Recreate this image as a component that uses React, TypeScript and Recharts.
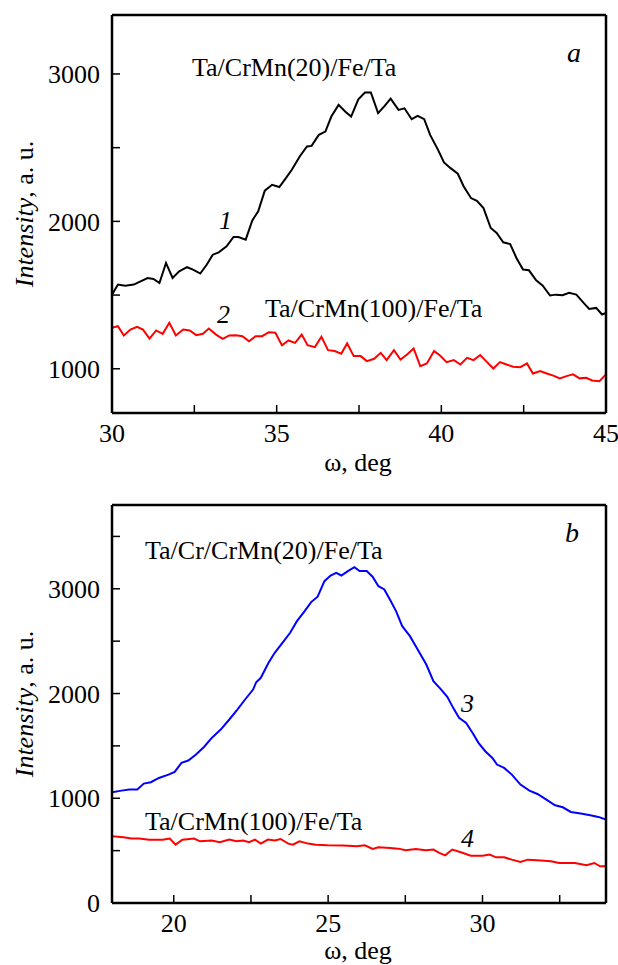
import { Line, LineChart, XAxis, YAxis } from 'recharts'

// panel a, curve 1: Ta/CrMn(20)/Fe/Ta
const omegaA1 = [
  30, 30.18, 30.4, 30.66, 31.08, 31.26, 31.44, 31.64, 31.84, 32.04, 32.28, 32.46, 32.68, 32.88, 33.06,
  33.24, 33.48, 33.69, 33.84, 34.06, 34.26, 34.44, 34.64, 34.86, 35.08, 35.28, 35.46, 35.7, 35.92, 36.06,
  36.28, 36.48, 36.66, 36.88, 37.08, 37.26, 37.48, 37.68, 37.86, 38.08, 38.28, 38.46, 38.7, 38.88, 39.1,
  39.28, 39.48, 39.66, 39.9, 40.08, 40.28, 40.5, 40.68, 40.9, 41.08, 41.28, 41.5, 41.68, 41.88, 42.09,
  42.28, 42.48, 42.66, 42.88, 43.08, 43.3, 43.48, 43.68, 43.88, 44.1, 44.32, 44.49, 44.7, 44.88, 45,
]
const intensityA1 = [
  1503, 1571, 1564, 1571, 1616, 1609, 1582, 1718, 1616, 1661, 1689, 1673, 1646, 1707, 1774,
  1790, 1831, 1894, 1894, 1876, 2007, 2068, 2208, 2248, 2233, 2293, 2350, 2440, 2508, 2512,
  2587, 2609, 2711, 2790, 2745, 2711, 2828, 2874, 2874, 2734, 2783, 2833, 2756, 2767, 2693,
  2715, 2693, 2587, 2485, 2400, 2361, 2323, 2237, 2158, 2140, 2090, 1955, 1921, 1858, 1846,
  1752, 1673, 1668, 1600, 1564, 1497, 1503, 1499, 1515, 1503, 1447, 1406, 1413, 1368, 1379,
]

// panel a, curve 2: Ta/CrMn(100)/Fe/Ta
const omegaA2 = [
  30, 30.18, 30.36, 30.56, 30.76, 30.94, 31.14, 31.34, 31.54, 31.74, 31.94,
  32.16, 32.36, 32.56, 32.76, 32.94, 33.16, 33.36, 33.56, 33.76, 33.96,
  34.16, 34.36, 34.56, 34.76, 34.96, 35.16, 35.36, 35.56, 35.76, 35.94,
  36.16, 36.36, 36.56, 36.76, 36.96, 37.14, 37.34, 37.55, 37.74, 37.96,
  38.16, 38.34, 38.56, 38.76, 38.96, 39.16, 39.36, 39.56, 39.78, 39.96,
  40.16, 40.38, 40.58, 40.78, 40.98, 41.18, 41.38, 41.58, 41.78, 41.98,
  42.18, 42.4, 42.6, 42.78, 43.0, 43.2, 43.38, 43.6, 43.8, 44.0,
  44.2, 44.4, 44.58, 44.8, 45,
]
const intensityA2 = [
  1278, 1289, 1226, 1266, 1284, 1266, 1205, 1260, 1237, 1312, 1226,
  1266, 1260, 1228, 1237, 1273, 1232, 1203, 1226, 1228, 1221,
  1187, 1221, 1221, 1248, 1244, 1160, 1192, 1176, 1232, 1160,
  1147, 1217, 1126, 1120, 1102, 1172, 1086, 1086, 1052, 1068,
  1108, 1059, 1126, 1063, 1097, 1138, 1018, 1036, 1120, 1090,
  1045, 1059, 1029, 1074, 1059, 1093, 1047, 1002, 1045, 1029,
  1014, 1011, 1036, 968, 984, 968, 955, 935, 950, 962,
  935, 939, 921, 916, 962,
]

// panel b, curve 3: Ta/Cr/CrMn(20)/Fe/Ta
const omegaB3 = [
  18, 18.31, 18.56, 18.82, 19.03, 19.26, 19.52, 19.83, 20.03, 20.25,
  20.47, 20.72, 20.98, 21.23, 21.52, 21.8, 22.06, 22.31, 22.57, 22.67,
  22.82, 23.07, 23.27, 23.52, 23.77, 23.99, 24.24, 24.45, 24.66, 24.88,
  25.08, 25.26, 25.43, 25.64, 25.85, 26.02, 26.25, 26.44, 26.63, 26.82,
  27.01, 27.2, 27.4, 27.65, 27.9, 28.18, 28.41, 28.64, 28.86, 29.05,
  29.24, 29.47, 29.68, 29.87, 30.09, 30.32, 30.47, 30.7, 30.95, 31.23,
  31.52, 31.78, 32.07, 32.35, 32.6, 32.86, 33.18, 33.49, 33.75, 34,
]
const intensityB3 = [
  1057, 1073, 1083, 1083, 1140, 1153, 1194, 1226, 1252, 1338,
  1360, 1417, 1490, 1576, 1656, 1752, 1847, 1943, 2038, 2108,
  2150, 2293, 2389, 2484, 2580, 2691, 2787, 2873, 2924, 3073,
  3127, 3153, 3127, 3169, 3207, 3169, 3169, 3115, 3025, 2994,
  2892, 2787, 2643, 2548, 2420, 2277, 2118, 2045, 1968, 1863,
  1768, 1720, 1624, 1529, 1449, 1385, 1322, 1290, 1226, 1131,
  1073, 1041, 987, 933, 914, 869, 854, 838, 822, 796,
]

// panel b, curve 4: Ta/CrMn(100)/Fe/Ta
const omegaB4 = [
  18, 18.37, 18.63, 18.88, 19.2, 19.64, 19.87, 20.06, 20.28, 20.66,
  20.85, 21.23, 21.49, 21.8, 22.03, 22.25, 22.44, 22.63, 22.82, 23.05,
  23.27, 23.46, 23.71, 23.86, 24.07, 24.35, 24.6, 24.98, 25.49, 25.93,
  26.19, 26.44, 26.63, 27.01, 27.27, 27.52, 27.84, 28.16, 28.41, 28.6,
  28.79, 29.02, 29.3, 29.62, 30.0, 30.23, 30.44, 30.7, 30.95, 31.23,
  31.46, 31.78, 32.22, 32.48, 32.99, 33.37, 33.62, 33.81, 34,
]
const intensityB4 = [
  637, 627, 615, 615, 605, 605, 615, 557, 605, 615,
  589, 596, 580, 605, 589, 596, 580, 605, 567, 605,
  596, 611, 567, 557, 589, 567, 557, 551, 548, 541,
  551, 516, 532, 525, 519, 503, 516, 503, 510, 478,
  455, 510, 484, 452, 452, 462, 436, 436, 414, 392,
  414, 408, 398, 382, 382, 360, 382, 350, 350,
]

const ticksAX = [30, 32.5, 35, 37.5, 40, 42.5, 45]
const ticksAY = [1000, 1500, 2000, 2500, 3000]
const ticksBX = [20, 22.5, 25, 27.5, 30, 32.5]
const ticksBY = [0, 500, 1000, 1500, 2000, 2500, 3000, 3500]

// font lists don't resolve in this renderer, so name just one family
const FONT = "'Liberation Serif'"
const FS = 26

const zip = (xs: number[], ys: number[]) => xs.map((x, i) => ({ x, y: ys[i] }))

interface Series {
  name: string
  color: string
  data: { x: number; y: number }[]
}

interface PanelProps {
  top: number
  height: number
  padTop: number
  padBottom: number
  xDomain: [number, number]
  yDomain: [number, number]
  xTicks: number[]
  yTicks: number[]
  series: Series[]
}

function Panel({ top, height, padTop, padBottom, xDomain, yDomain, xTicks, yTicks, series }: PanelProps) {
  const tickStyle = { fontSize: FS, fill: '#000', style: { fontFamily: FONT } }
  const axisLine = { stroke: '#000', strokeWidth: 2.5 }
  const tickLine = { stroke: '#000', strokeWidth: 1.5 }
  return (
    <div style={{ position: 'absolute', left: 0, top }}>
      <LineChart width={618} height={height} margin={{ top: 0, right: 0, bottom: 0, left: 0 }} style={{ fontFamily: FONT }}>
        <XAxis
          xAxisId="b"
          type="number"
          dataKey="x"
          domain={xDomain}
          ticks={xTicks}
          interval={0}
          allowDataOverflow
          height={padBottom}
          tickSize={-8}
          tickMargin={19}
          tick={tickStyle}
          tickFormatter={(v: number) => (v % 5 === 0 ? String(v) : '')}
          axisLine={axisLine}
          tickLine={tickLine}
        />
        <XAxis
          xAxisId="t"
          orientation="top"
          type="number"
          dataKey="x"
          domain={xDomain}
          ticks={xTicks}
          interval={0}
          allowDataOverflow
          height={padTop}
          tickSize={-8}
          tick={false}
          axisLine={axisLine}
          tickLine={tickLine}
        />
        <YAxis
          yAxisId="l"
          type="number"
          domain={yDomain}
          ticks={yTicks}
          interval={0}
          allowDataOverflow
          width={112}
          tickSize={-8}
          tickMargin={20}
          tick={tickStyle}
          tickFormatter={(v: number) => (v % 1000 === 0 ? String(v) : '')}
          axisLine={axisLine}
          tickLine={tickLine}
        />
        <YAxis
          yAxisId="r"
          orientation="right"
          type="number"
          domain={yDomain}
          ticks={yTicks}
          interval={0}
          allowDataOverflow
          width={12}
          tickSize={-8}
          tick={false}
          axisLine={axisLine}
          tickLine={tickLine}
        />
        {series.map((s) => (
          <Line
            key={s.name}
            xAxisId="b"
            yAxisId="l"
            data={s.data}
            dataKey="y"
            type="linear"
            stroke={s.color}
            strokeWidth={2}
            dot={false}
            isAnimationActive={false}
          />
        ))}
      </LineChart>
    </div>
  )
}

function YLabel({ cy }: { cy: number }) {
  return (
    <text x={33} y={cy} transform={`rotate(-90 33 ${cy})`} textAnchor="middle" fontSize={FS} style={{ fontFamily: FONT }}>
      <tspan fontStyle="italic">Intensity</tspan>
      <tspan>, a. u.</tspan>
    </text>
  )
}

function Note({ x, y, size = FS, italic = false, anchor = 'start', children }: {
  x: number
  y: number
  size?: number
  italic?: boolean
  anchor?: 'start' | 'middle' | 'end'
  children: string
}) {
  return (
    <text x={x} y={y} fontSize={size} fontStyle={italic ? 'italic' : 'normal'} textAnchor={anchor} style={{ fontFamily: FONT }}>
      {children}
    </text>
  )
}

export default function App() {
  const seriesA: Series[] = [
    { name: '1', color: '#000000', data: zip(omegaA1, intensityA1) },
    { name: '2', color: '#ff0000', data: zip(omegaA2, intensityA2) },
  ]
  const seriesB: Series[] = [
    { name: '3', color: '#0000ff', data: zip(omegaB3, intensityB3) },
    { name: '4', color: '#ff0000', data: zip(omegaB4, intensityB4) },
  ]
  return (
    <div style={{ position: 'absolute', left: 0, top: 0, width: 618, height: 965, background: '#fff' }}>
      <Panel
        top={0}
        height={460}
        padTop={15}
        padBottom={47}
        xDomain={[30, 45]}
        yDomain={[700, 3400]}
        xTicks={ticksAX}
        yTicks={ticksAY}
        series={seriesA}
      />
      <Panel
        top={460}
        height={505}
        padTop={45}
        padBottom={62}
        xDomain={[18, 34]}
        yDomain={[0, 3800]}
        xTicks={ticksBX}
        yTicks={ticksBY}
        series={seriesB}
      />
      <svg width={618} height={965} style={{ position: 'absolute', left: 0, top: 0, pointerEvents: 'none' }} fill="#000">
        <Note x={567} y={62} size={28} italic>a</Note>
        <Note x={192} y={76}>Ta/CrMn(20)/Fe/Ta</Note>
        <Note x={219} y={229} italic>1</Note>
        <Note x={217} y={323} italic>2</Note>
        <Note x={265} y={317}>Ta/CrMn(100)/Fe/Ta</Note>
        <Note x={358} y={471} anchor="middle">ω, deg</Note>
        <YLabel cy={214} />

        <Note x={565} y={542} size={28} italic>b</Note>
        <Note x={145} y={559}>Ta/Cr/CrMn(20)/Fe/Ta</Note>
        <Note x={461} y={712} italic>3</Note>
        <Note x={145} y={830}>Ta/CrMn(100)/Fe/Ta</Note>
        <Note x={461} y={847} italic>4</Note>
        <Note x={358} y={959} anchor="middle">ω, deg</Note>
        <YLabel cy={704} />
      </svg>
    </div>
  )
}
